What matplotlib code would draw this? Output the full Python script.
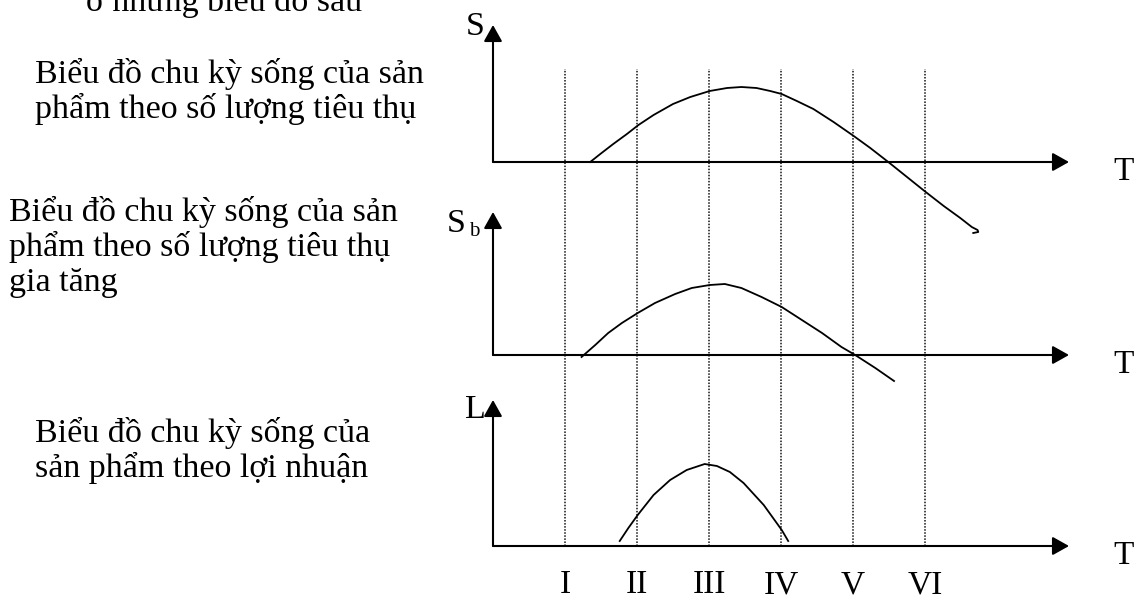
import matplotlib
matplotlib.use('Agg')
import matplotlib.pyplot as plt

# product life cycle sketches: sales, sales growth, profit vs time phases

phase_labels = ['I', 'II', 'III', 'IV', 'V', 'VI']
phase_x = [1, 2, 3, 4, 5, 6]

# sales S (x in phase units, y in arbitrary units above the T axis)
s_x = [1.35, 1.49, 1.67, 1.86, 2.02, 2.23, 2.50, 2.74, 3.01, 3.25, 3.45, 3.66,
       3.85, 4.01, 4.22, 4.45, 4.73, 5.01, 5.24, 5.49, 5.75, 6.01, 6.26, 6.49,
       6.65, 6.73, 6.74, 6.67]
s_y = [0.0, 0.8, 1.8, 2.8, 3.7, 4.7, 5.8, 6.5, 7.1, 7.4, 7.5, 7.4,
       7.1, 6.8, 6.1, 5.3, 4.0, 2.6, 1.4, 0.0, -1.5, -3.0, -4.4, -5.6,
       -6.5, -6.8, -7.0, -7.1]

# sales growth Sb
sb_x = [1.23, 1.42, 1.60, 1.79, 2.01, 2.25, 2.53, 2.76, 3.01, 3.22, 3.45, 3.73,
        4.01, 4.29, 4.57, 4.84, 5.03, 5.31, 5.57]
sb_y = [-0.2, 1.0, 2.2, 3.2, 4.2, 5.2, 6.1, 6.7, 7.0, 7.1, 6.7, 5.8,
        4.8, 3.5, 2.2, 0.8, 0.0, -1.3, -2.6]

# profit L
l_x = [1.76, 1.88, 2.01, 2.23, 2.46, 2.69, 2.94, 3.11, 3.29, 3.48, 3.76, 4.01, 4.10]
l_y = [0.5, 1.8, 3.1, 5.1, 6.6, 7.6, 8.2, 8.0, 7.4, 6.3, 4.1, 1.6, 0.5]

desc_top = 'Biểu đồ chu kỳ sống của sản\nphẩm theo số lượng tiêu thụ'
desc_mid = 'Biểu đồ chu kỳ sống của sản\nphẩm theo số lượng tiêu thụ\ngia tăng'
desc_bot = 'Biểu đồ chu kỳ sống của\nsản phẩm theo lợi nhuận'
head_text = 'ở những biểu đồ sau'

W, H = 1134, 599
X0, XU, YU = 493, 72.0, 10.0
FONT = 'Liberation Serif'

fig = plt.figure(figsize=(W / 100, H / 100), dpi=100)
fig.patch.set_facecolor('white')

# text layer in pixel coordinates
tx = fig.add_axes([0, 0, 1, 1])
tx.set_xlim(0, W)
tx.set_ylim(H, 0)
tx.axis('off')


def panel(base):
    ax = fig.add_axes([0, 0, 1, 1])
    ax.set_xlim(-X0 / XU, (W - X0) / XU)
    ax.set_ylim((base - H) / YU, base / YU)
    ax.axis('off')
    ax.patch.set_alpha(0)
    return ax


def axes_arrows(ax, ytop):
    style = '-|>,head_length=0.5,head_width=0.28'
    kw = dict(arrowstyle=style, lw=1.5, color='k', mutation_scale=20,
              shrinkA=0, shrinkB=0)
    ax.annotate('', xy=(8, 0), xytext=(0, 0), arrowprops=kw)
    ax.annotate('', xy=(0, ytop), xytext=(0, 0), arrowprops=kw)


bases = [162, 355, 546]
tops = [25, 212, 400]
panels = [panel(b) for b in bases]

# dotted phase boundaries through all three plots
ax_s = panels[0]
ax_s.vlines(phase_x, (bases[0] - 546) / YU, (bases[0] - 69) / YU,
            colors='#111111', linestyles=(0, (1, 1)), lw=1.1)

for ax, b, t in zip(panels, bases, tops):
    axes_arrows(ax, (b - t) / YU)

panels[0].plot(s_x, s_y, color='k', lw=1.3, clip_on=False)
panels[1].plot(sb_x, sb_y, color='k', lw=1.3, clip_on=False)
panels[2].plot(l_x, l_y, color='k', lw=1.3, clip_on=False)

fs = 24.5
tkw = dict(family=FONT, fontsize=fs, color='k', va='baseline', ha='left')


def block(x, y0, txt):
    # one text per line so the baselines sit where the reference has them
    for i, line in enumerate(txt.split('\n')):
        tx.text(x, y0 + 35 * i, line, **tkw)


tx.text(86, 11, head_text, **tkw)
block(35, 83, desc_top)
block(9, 221, desc_mid)
block(35, 442, desc_bot)

# axis names
tx.text(466, 35, 'S', **tkw)
tx.text(447, 232, 'S', **tkw)
tx.text(469, 236, 'b', family=FONT, fontsize=15, va='baseline', ha='left')
tx.text(465, 418, 'L', **tkw)
for b in bases:
    tx.text(1113, b + 18, 'T', family=FONT, fontsize=24, va='baseline', ha='left')

for lab, px in zip(phase_labels, phase_x):
    tx.text(X0 + XU * px, 593, lab, family=FONT, fontsize=24, va='baseline',
            ha='center')

fig.savefig('out.png', dpi=100, facecolor='white')
